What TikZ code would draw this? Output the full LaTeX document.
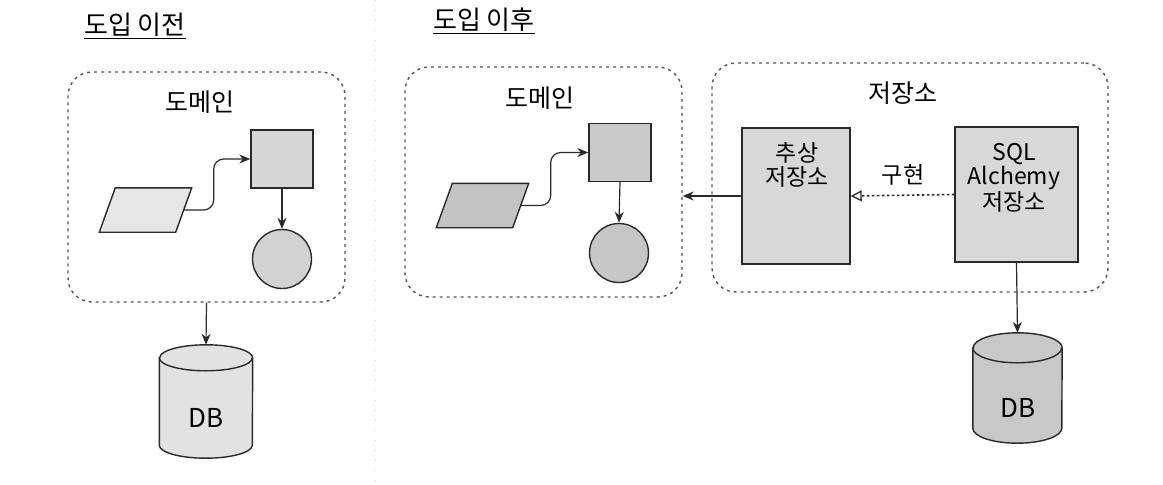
\documentclass[tikz,border=0pt]{standalone}
\usepackage{fontspec}
\setmainfont{Noto Sans CJK KR}
\usetikzlibrary{arrows.meta,calc}
\definecolor{lnc}{HTML}{2A2A2A}
\definecolor{dashc}{HTML}{555555}
\definecolor{repoc}{HTML}{D8D8D8}
\begin{document}
\begin{tikzpicture}[x=1pt,y=-1pt,
  every node/.style={font=\fontsize{23}{24}\selectfont, text=black, inner sep=0pt},
  grpbox/.style={draw=dashc, line width=1.4pt, dash pattern=on 3pt off 4pt, rounded corners=24pt, rectangle},
  shp/.style={draw=lnc, line width=1.4pt},
  sq/.style={shp, rectangle, minimum width=62pt, minimum height=58pt},
  circ/.style={shp, circle, minimum size=59pt},
  repobox/.style={shp, rectangle, fill=repoc},
  arr/.style={draw=lnc, line width=1.2pt, -{Stealth[length=11pt,width=9pt]}},
  title/.style={font=\fontsize{26}{28}\selectfont},
  ttl/.style={font=\fontsize{25}{26}\selectfont},
  dbtext/.style={font=\fontsize{26}{28}\selectfont},
  paraanchor/.style={rectangle, minimum width=76pt, minimum height=44pt},
]
\useasboundingbox (0,0) rectangle (1163,485);
\fill[white] (0,0) rectangle (1163,485);

% separator
\draw[gray!35, line width=0.8pt, dash pattern=on 1pt off 9pt] (375,0) -- (375,485);

% titles
\node[title] (t1) at (135,26) {\underline{도입 이전}};
\node[title] (t2) at (484,21) {\underline{도입 이후}};

% ===== before =====
\node[grpbox, minimum width=277pt, minimum height=230pt] (dom1) at (206.5,187) {};
\node[ttl] (dl1) at (200,102) {도메인};
\node[sq, fill={rgb,255:red,214;green,214;blue,214}] (s1) at (282,159) {};
\node[circ, fill={rgb,255:red,210;green,210;blue,210}] (c1) at (282,259) {};
\node[paraanchor] (p1) at (145.5,210) {};
\draw[shp, fill={rgb,255:red,230;green,230;blue,230}]
  ($(p1.north west)+(8,0)$) -- ($(p1.north east)+(8,0)$) -- ($(p1.south east)+(-8,0)$) -- ($(p1.south west)+(-8,0)$) -- cycle;
\draw[arr, rounded corners=10pt] (p1.east) -- ++(30,0) |- (s1.west);
\draw[arr] (s1.south) -- (c1.north);

% DB 1
\node[minimum width=93pt, minimum height=113pt] (db1) at (206,401.5) {};
\draw[shp, fill={rgb,255:red,226;green,226;blue,226}]
  ($(db1.north west)+(0,13)$) -- ($(db1.south west)+(0,-13)$)
  arc[start angle=180, end angle=0, x radius=46.5, y radius=13]
  -- ($(db1.north east)+(0,13)$)
  arc[start angle=0, end angle=-180, x radius=46.5, y radius=13] -- cycle;
\draw[shp] ($(db1.north west)+(0,13)$) arc[start angle=180, end angle=0, x radius=46.5, y radius=13];
\node[dbtext] (dbt1) at (206,418) {DB};
\draw[arr] (dom1.south) -- (db1.north);

% ===== after =====
\node[grpbox, minimum width=277pt, minimum height=230pt] (dom2) at (543.5,182) {};
\node[ttl] (dl2) at (540,98) {도메인};
\node[sq, fill={rgb,255:red,202;green,202;blue,202}] (s2) at (620,152.5) {};
\node[circ, fill={rgb,255:red,198;green,198;blue,198}] (c2) at (619,253) {};
\node[paraanchor] (p2) at (482.5,205.5) {};
\draw[shp, fill={rgb,255:red,196;green,196;blue,196}]
  ($(p2.north west)+(8,0)$) -- ($(p2.north east)+(8,0)$) -- ($(p2.south east)+(-8,0)$) -- ($(p2.south west)+(-8,0)$) -- cycle;
\draw[arr, rounded corners=10pt] (p2.east) -- ++(30,0) |- (s2.west);
\draw[arr] (s2.south) -- (c2.north);

% repository
\node[grpbox, minimum width=396pt, minimum height=229pt] (rep) at (910,177.5) {};
\node[ttl] (rl) at (903,93) {저장소};
\node[repobox, minimum width=108pt, minimum height=136pt] (ab) at (796,196) {};
\node[align=center] (abt) at (797,165) {추상\\저장소};
\node[repobox, minimum width=123pt, minimum height=135pt] (sql) at (1016.5,194.5) {};
\node[align=center] (sqlt) at (1014,178) {SQL\\Alchemy\\저장소};
\node (impl) at (903,175) {구현};

\draw[draw=lnc, line width=1.6pt, dash pattern=on 2.5pt off 2.5pt, -{Triangle[open,length=11pt,width=11pt,line width=1.3pt,fill=white]}]
  (sql.west) -- (ab.east);
\draw[arr] (ab.west) -- (dom2.east |- ab.west);

% DB 2
\node[minimum width=89pt, minimum height=110pt] (db2) at (1017.5,388) {};
\draw[shp, fill={rgb,255:red,200;green,200;blue,200}]
  ($(db2.north west)+(0,15)$) -- ($(db2.south west)+(0,-15)$)
  arc[start angle=180, end angle=0, x radius=44.5, y radius=15]
  -- ($(db2.north east)+(0,15)$)
  arc[start angle=0, end angle=-180, x radius=44.5, y radius=15] -- cycle;
\draw[shp] ($(db2.north west)+(0,15)$) arc[start angle=180, end angle=0, x radius=44.5, y radius=15];
\node[dbtext] (dbt2) at (1018,408) {DB};
\draw[arr] (sql.south) -- (db2.north);
\end{tikzpicture}
\end{document}
